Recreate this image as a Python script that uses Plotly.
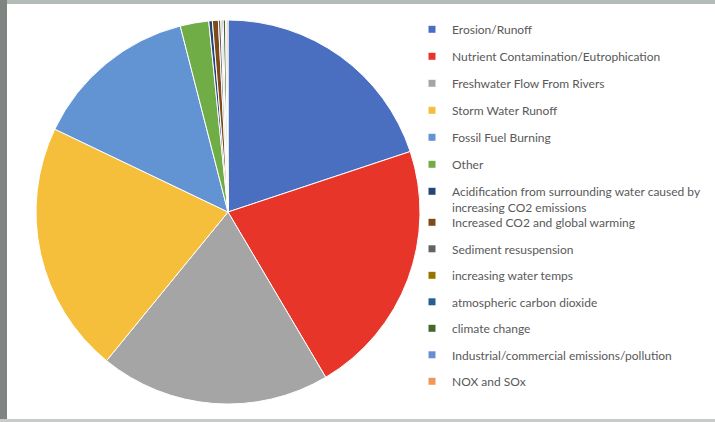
import plotly.graph_objects as go

# Reported causes and their share of responses (%)
labels = [
    "Erosion/Runoff",
    "Nutrient Contamination/Eutrophication",
    "Freshwater Flow From Rivers",
    "Storm Water Runoff",
    "Fossil Fuel Burning",
    "Other",
    "Acidification from surrounding water caused by<br>increasing CO2 emissions",
    "Increased CO2 and global warming",
    "Sediment resuspension",
    "increasing water temps",
    "atmospheric carbon dioxide",
    "climate change",
    "Industrial/commercial emissions/pollution",
    "NOX and SOx",
]
shares = [19.9, 21.6, 19.4, 21.2, 13.9, 2.4, 0.3, 0.5, 0.2, 0.1, 0.1, 0.2, 0.1, 0.1]
slice_colors = [
    "#4A6FC0", "#E8352A", "#A5A5A5", "#F5BF3C", "#6294D4", "#70AD47",
    "#264478", "#7F4A1A", "#636363", "#997300", "#255E91", "#43682B",
    "#698ED0", "#F1975A",
]
# first block of legend entries; the rest go in a second legend box
first_block = 7

W, H = 715, 422
cx, cy, r = 228, 212, 192

fig = go.Figure()
fig.add_trace(go.Pie(
    labels=labels,
    values=shares,
    sort=False,
    direction="clockwise",
    rotation=0,
    textinfo="none",
    hoverinfo="label+percent",
    marker=dict(colors=slice_colors, line=dict(color="white", width=1)),
    showlegend=False,
    domain=dict(x=[(cx - r) / W, (cx + r) / W], y=[(H - cy - r) / H, (H - cy + r) / H]),
))

# legend entries with small square swatches
for i, (lab, col) in enumerate(zip(labels, slice_colors)):
    fig.add_trace(go.Scatter(
        x=[None], y=[None], mode="markers",
        marker=dict(symbol="square", size=7, color=col),
        name=lab, legendgroup=f"g{i}",
        legend="legend" if i < first_block else "legend2",
        hoverinfo="skip",
    ))

legend_style = dict(
    xanchor="left", yanchor="top",
    traceorder="grouped",
    font=dict(family="Lato", size=12, color="#595959"),
    bgcolor="rgba(0,0,0,0)", itemwidth=30, valign="top",
)

fig.update_layout(
    width=W, height=H,
    margin=dict(l=0, r=0, t=0, b=0),
    paper_bgcolor="white",
    plot_bgcolor="white",
    xaxis=dict(visible=False),
    yaxis=dict(visible=False),
    legend=dict(x=412 / W, y=1 - 15 / H, tracegroupgap=8, **legend_style),
    legend2=dict(x=412 / W, y=1 - 208 / H, tracegroupgap=7.5, **legend_style),
    shapes=[
        dict(type="rect", xref="paper", yref="paper", x0=0, x1=1, y0=1 - 4 / H, y1=1,
             fillcolor="#B3BBB6", line=dict(width=0), layer="above"),
        dict(type="rect", xref="paper", yref="paper", x0=0, x1=7 / W, y0=0, y1=1,
             fillcolor="#7E8480", line=dict(width=0), layer="above"),
        dict(type="rect", xref="paper", yref="paper", x0=0, x1=1, y0=0, y1=3 / H,
             fillcolor="#C9CBCA", line=dict(width=0), layer="above"),
    ],
)

fig.write_html("out.html")
